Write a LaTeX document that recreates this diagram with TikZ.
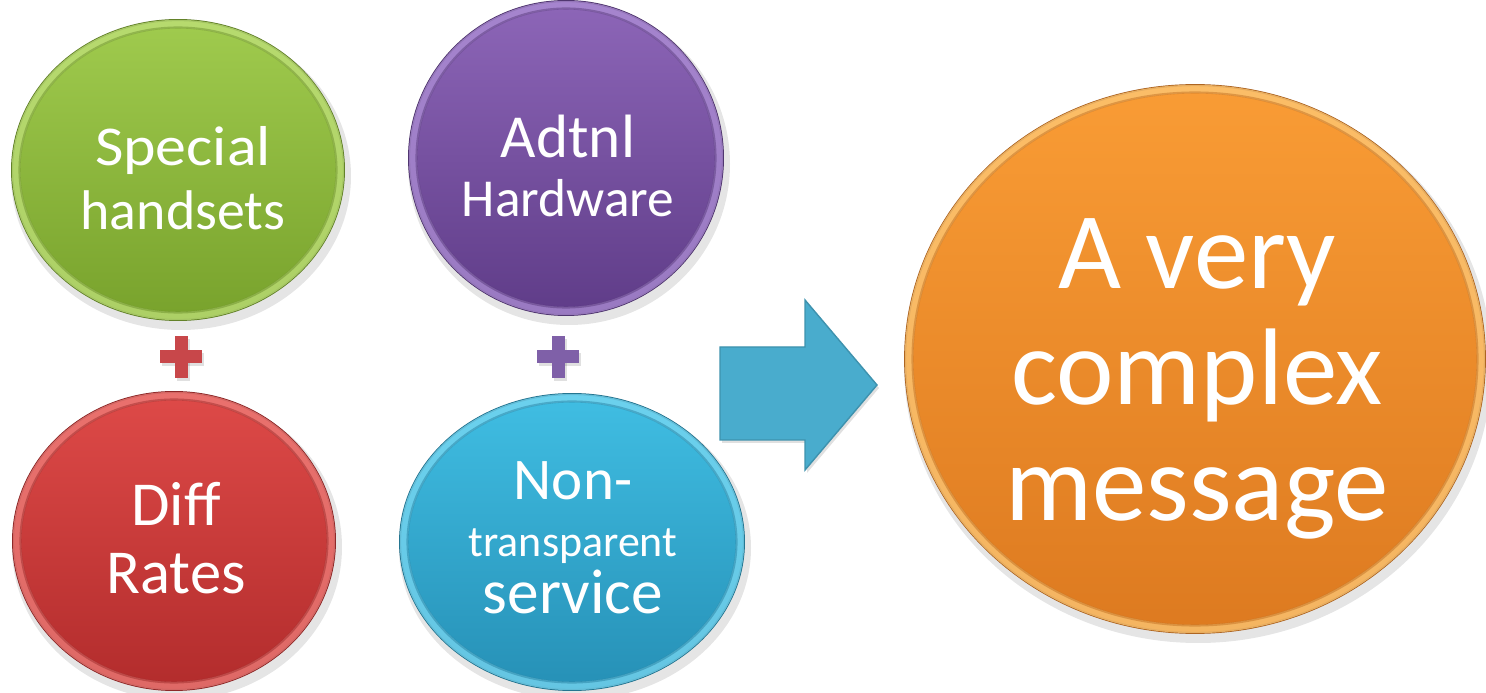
\documentclass[tikz,border=0pt]{standalone}
\usepackage{fontspec}
\setmainfont{Carlito}
\usetikzlibrary{shapes.geometric}
\definecolor{gTop}{HTML}{A0CB4E}
\definecolor{gBot}{HTML}{78A22C}
\definecolor{gRim}{HTML}{BFE07A}
\definecolor{pTop}{HTML}{8D66B8}
\definecolor{pBot}{HTML}{5F3C88}
\definecolor{pRim}{HTML}{AE8FD6}
\definecolor{rTop}{HTML}{DE4A48}
\definecolor{rBot}{HTML}{B22C2C}
\definecolor{rRim}{HTML}{EE7E7A}
\definecolor{cTop}{HTML}{40BEE3}
\definecolor{cBot}{HTML}{2690B6}
\definecolor{cRim}{HTML}{7AD8F2}
\definecolor{oTop}{HTML}{F99C35}
\definecolor{oBot}{HTML}{DD7A20}
\definecolor{oRim}{HTML}{FDC978}
\definecolor{arrowc}{HTML}{49ACCD}
\definecolor{plusR}{HTML}{C8474A}
\definecolor{plusP}{HTML}{7F60A8}
\tikzset{
  disc/.style={ellipse, inner sep=0pt, line width=0.6pt},
  txt/.style={text=white, align=center, inner sep=0pt},
}
% #1 name, #2 cx, #3 cy, #4 rx, #5 ry (px), #6 top, #7 bottom, #8 rim
\newcommand\Disc[8]{%
  \fill[black, opacity=0.10] ({(#2+3)/100},{-(#3+6)/100}) ellipse [x radius={(#4+4)/100}, y radius={(#5+4)/100}];
  \node[disc, top color=#6, bottom color=#7, draw=#7!75!black,
        minimum width={2*#4*0.01cm}, minimum height={2*#5*0.01cm}] (#1) at ({#2/100},{-#3/100}) {};
  \draw[#8, line width=2.4pt, opacity=0.75] (#1.center) ellipse [x radius={(#4-4)/100}, y radius={(#5-4)/100}];
  \draw[#7!85!black, line width=0.6pt, opacity=0.45] (#1.center) ellipse [x radius={(#4-7.5)/100}, y radius={(#5-7.5)/100}];
}
% #1 cx, #2 cy (px), #3 colour
\newcommand\PlusSign[3]{%
  \fill[black, opacity=0.12] ({(#1-6.5+2)/100},{-(#2-21+3)/100}) rectangle ({(#1+6.5+2)/100},{-(#2+21+3)/100});
  \fill[black, opacity=0.12] ({(#1-21+2)/100},{-(#2-6.5+3)/100}) rectangle ({(#1+21+2)/100},{-(#2+6.5+3)/100});
  \fill[#3] ({(#1-6.5)/100},{-(#2-21)/100}) rectangle ({(#1+6.5)/100},{-(#2+21)/100});
  \fill[#3] ({(#1-21)/100},{-(#2-6.5)/100}) rectangle ({(#1+21)/100},{-(#2+6.5)/100});
}
\begin{document}
\begin{tikzpicture}
\fill[white] (0,0) rectangle (14.86,-6.93);
\useasboundingbox (0,0) rectangle (14.86,-6.93);

\Disc{green}{178}{170}{166}{150}{gTop}{gBot}{gRim}
\Disc{purple}{566}{158}{157}{157}{pTop}{pBot}{pRim}
\Disc{red}{174}{541}{161}{149}{rTop}{rBot}{rRim}
\Disc{cyan}{572}{542}{172}{148}{cTop}{cBot}{cRim}
\Disc{orange}{1195}{359}{290}{274}{oTop}{oBot}{oRim}

\node[txt, font=\fontsize{15.8}{18.2}\selectfont] (gT) at (1.83,-1.78) {{\fontsize{16}{18.2}\selectfont\scalebox{1.1}[1]{Special}}\\{\fontsize{15.9}{18.2}\selectfont handsets}};
\node[txt, font=\fontsize{15}{17}\selectfont] (pT) at (5.68,-1.66) {{\fontsize{17.4}{17}\selectfont Adtnl}\\{\fontsize{15.2}{17}\selectfont Hardware}};
\node[txt, font=\fontsize{17.8}{19.5}\selectfont] (rT) at (1.76,-5.38) {Diff\\Rates};
\node[txt, font=\fontsize{15}{16.2}\selectfont] (cT) at (5.73,-5.38) {{\fontsize{16.8}{16}\selectfont Non-}\\{\fontsize{12.5}{16}\selectfont transparent}\\{\fontsize{18}{16}\selectfont service}};
\node[txt, font=\fontsize{31}{33}\selectfont] (oT) at (11.97,-3.79) {A very\\complex\\message};

\PlusSign{181}{357}{plusR}
\PlusSign{558}{357}{plusP}

\fill[black, opacity=0.12] (7.22,-3.50) -- (8.07,-3.50) -- (8.07,-3.03) -- (8.79,-3.88) -- (8.07,-4.73) -- (8.07,-4.43) -- (7.22,-4.43) -- cycle;
\fill[arrowc, draw=arrowc!85!black, line width=0.4pt] (7.20,-3.47) -- (8.05,-3.47) -- (8.05,-3.00) -- (8.77,-3.85) -- (8.05,-4.70) -- (8.05,-4.40) -- (7.20,-4.40) -- cycle;
\end{tikzpicture}
\end{document}
